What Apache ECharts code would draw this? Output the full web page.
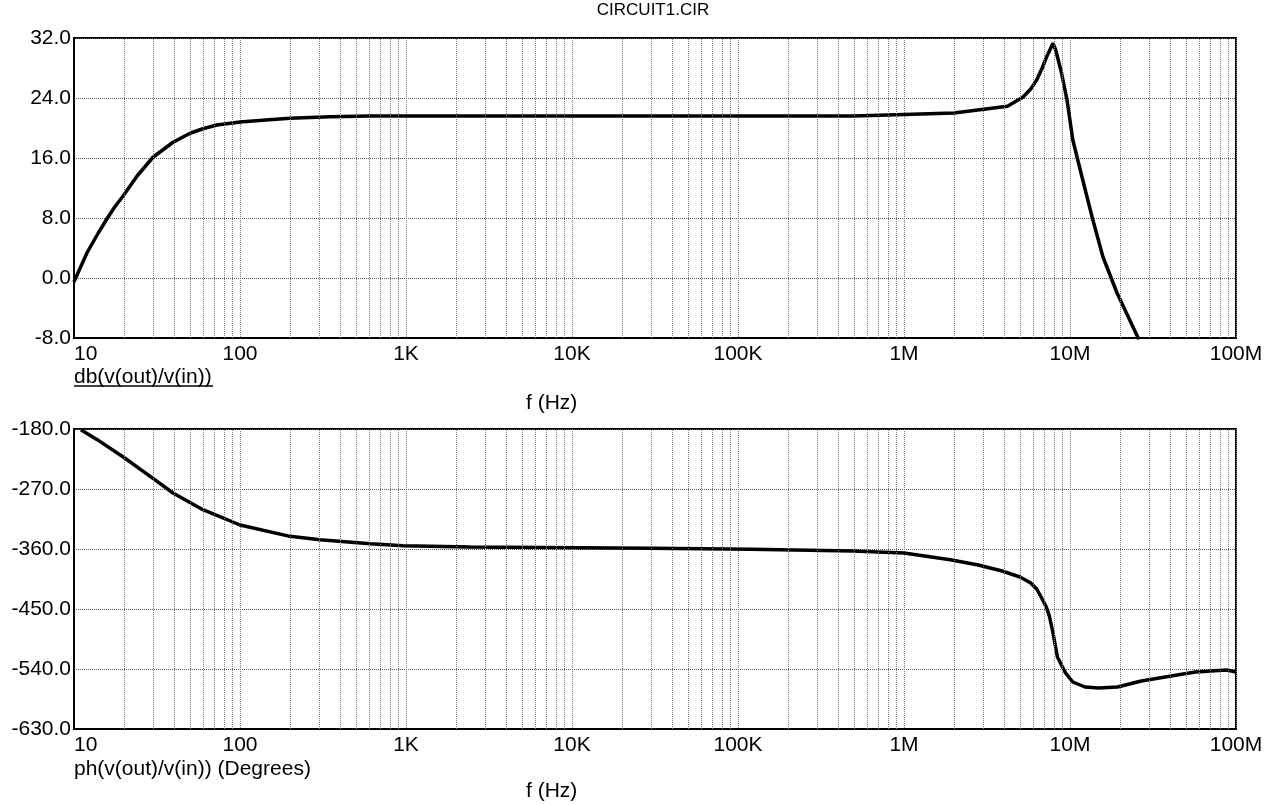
<!DOCTYPE html>
<html>
<head>
<meta charset="utf-8">
<script src="https://cdn.jsdelivr.net/npm/echarts@6/dist/echarts.min.js"></script>
<style>
    html, body { margin: 0; padding: 0; background: #fff; }
    #chart { width: 1271px; height: 805px; }
</style>
</head>
<body>
<div id="chart"></div>
<script>
    // magnitude trace, db(v(out)/v(in))
    let freqDb = [10, 12, 14, 15.8, 17.5, 19.7, 24, 29.9, 39.5, 50, 59.8, 72.6, 100, 150, 200, 350, 600,
        1e3, 1e4, 1e5, 5e5, 1e6, 2e6, 4.2e6, 5.2e6, 5.8e6, 6.3e6, 6.8e6, 7.2e6, 7.9e6, 8.2e6,
        8.9e6, 9.6e6, 10.4e6, 11.8e6, 13.6e6, 15.8e6, 19.2e6, 26e6];
    let dbVals = [-0.5, 3.4, 6.0, 7.9, 9.4, 10.9, 13.6, 16.1, 18.1, 19.3, 19.9, 20.4, 20.8, 21.1, 21.3, 21.5, 21.6,
        21.6, 21.6, 21.6, 21.6, 21.8, 22.0, 22.9, 24.1, 25.2, 26.4, 28.0, 29.4, 31.3, 30.4,
        27.3, 23.7, 18.4, 13.5, 8.1, 2.8, -2.0, -8.2];

    // phase trace, ph(v(out)/v(in))
    let freqPh = [11, 13.8, 19.8, 29.9, 39.5, 59.8, 100, 200, 303, 610, 961, 2.43e3, 3e4, 1.2e5, 4.9e5,
        1e6, 1.9e6, 2.8e6, 3.9e6, 5e6, 5.8e6, 6.3e6, 6.7e6, 7.2e6, 7.5e6, 7.9e6, 8.4e6, 9.4e6,
        10.4e6, 12.3e6, 14.9e6, 19.3e6, 26.9e6, 48e6, 57e6, 88e6, 100e6];
    let phVals = [-181, -196, -222, -254, -276, -301, -324, -341, -346, -352, -355, -357, -359, -360.5, -363,
        -366, -376, -384, -393, -402, -411, -420, -432, -447, -460, -486, -522, -546,
        -559.5, -567, -568.5, -567, -558, -547.5, -544.5, -541.5, -544.5];

    let freqLabels = {1: '10', 2: '100', 3: '1K', 4: '10K', 5: '100K', 6: '1M', 7: '10M', 8: '100M'};

    // minor grid positions 2..9 x 10^k
    let minorFreqs = [];
    for (let k = 1; k < 8; k++) {
        for (let m = 2; m <= 9; m++) {
            minorFreqs.push(m * Math.pow(10, k));
        }
    }

    let font = 'Liberation Sans, Arial, sans-serif';
    let myChart = echarts.init(document.getElementById('chart'));

    function xAxisOf(gridIndex) {
        return {
            type: 'log',
            logBase: 10,
            gridIndex: gridIndex,
            min: 10,
            max: 1e8,
            axisLine: {show: true, onZero: false, lineStyle: {color: '#000', width: 2}},
            axisTick: {show: false},
            axisLabel: {
                color: '#000',
                fontFamily: font,
                fontSize: 21,
                margin: 6,
                alignMinLabel: 'left',
                formatter: function (v) {
                    return freqLabels[Math.round(Math.log10(v))] || '';
                }
            },
            splitLine: {show: true, lineStyle: {color: '#808080', type: 'dotted', width: 1}}
        };
    }

    function yAxisOf(gridIndex, min, max, interval) {
        return {
            type: 'value',
            gridIndex: gridIndex,
            min: min,
            max: max,
            interval: interval,
            axisLine: {show: true, lineStyle: {color: '#000', width: 2}},
            axisTick: {show: false},
            axisLabel: {
                color: '#000',
                fontFamily: font,
                fontSize: 21,
                margin: 3,
                formatter: function (v) {
                    return v.toFixed(1);
                }
            },
            splitLine: {show: true, lineStyle: {color: '#555', type: 'dotted', width: 1}}
        };
    }

    function minorGrid(idx) {
        return {
            type: 'line',
            xAxisIndex: idx,
            yAxisIndex: idx,
            data: [],
            silent: true,
            markLine: {
                silent: true,
                symbol: 'none',
                animation: false,
                label: {show: false},
                lineStyle: {color: '#808080', type: 'dotted', width: 1},
                data: minorFreqs.map((f) => ({xAxis: f}))
            }
        };
    }

    let textStyle = {color: '#000', fontFamily: font, fontSize: 21, fontWeight: 'normal'};

    let option = {
        animation: false,
        title: [
            {text: 'CIRCUIT1.CIR', left: 653, top: 2, textAlign: 'center', padding: 0,
                textStyle: Object.assign({}, textStyle, {fontSize: 17})},
            {text: 'db(v(out)/v(in))', left: 74, top: 367, padding: 0, textStyle: textStyle},
            {text: 'f (Hz)', left: 526, top: 393, padding: 0, textStyle: textStyle},
            {text: 'ph(v(out)/v(in)) (Degrees)', left: 74, top: 759, padding: 0, textStyle: textStyle},
            {text: 'f (Hz)', left: 526, top: 781, padding: 0, textStyle: textStyle}
        ],
        graphic: [
            // underline under the first trace name
            {type: 'line', shape: {x1: 74, y1: 386, x2: 213, y2: 386}, style: {stroke: '#000', lineWidth: 1.5}}
        ],
        grid: [
            {left: 74, top: 38, width: 1162, height: 300, show: true, borderColor: '#000', borderWidth: 2},
            {left: 74, top: 429, width: 1162, height: 300, show: true, borderColor: '#000', borderWidth: 2}
        ],
        xAxis: [xAxisOf(0), xAxisOf(1)],
        yAxis: [yAxisOf(0, -8, 32, 8), yAxisOf(1, -630, -180, 90)],
        series: [
            minorGrid(0),
            minorGrid(1),
            {
                name: 'db(v(out)/v(in))',
                type: 'line',
                xAxisIndex: 0,
                yAxisIndex: 0,
                showSymbol: false,
                clip: true,
                lineStyle: {color: '#000', width: 3.5},
                data: freqDb.map((f, i) => [f, dbVals[i]])
            },
            {
                name: 'ph(v(out)/v(in))',
                type: 'line',
                xAxisIndex: 1,
                yAxisIndex: 1,
                showSymbol: false,
                clip: true,
                lineStyle: {color: '#000', width: 3.5},
                data: freqPh.map((f, i) => [f, phVals[i]])
            }
        ]
    };

    myChart.setOption(option);
</script>
</body>
</html>
